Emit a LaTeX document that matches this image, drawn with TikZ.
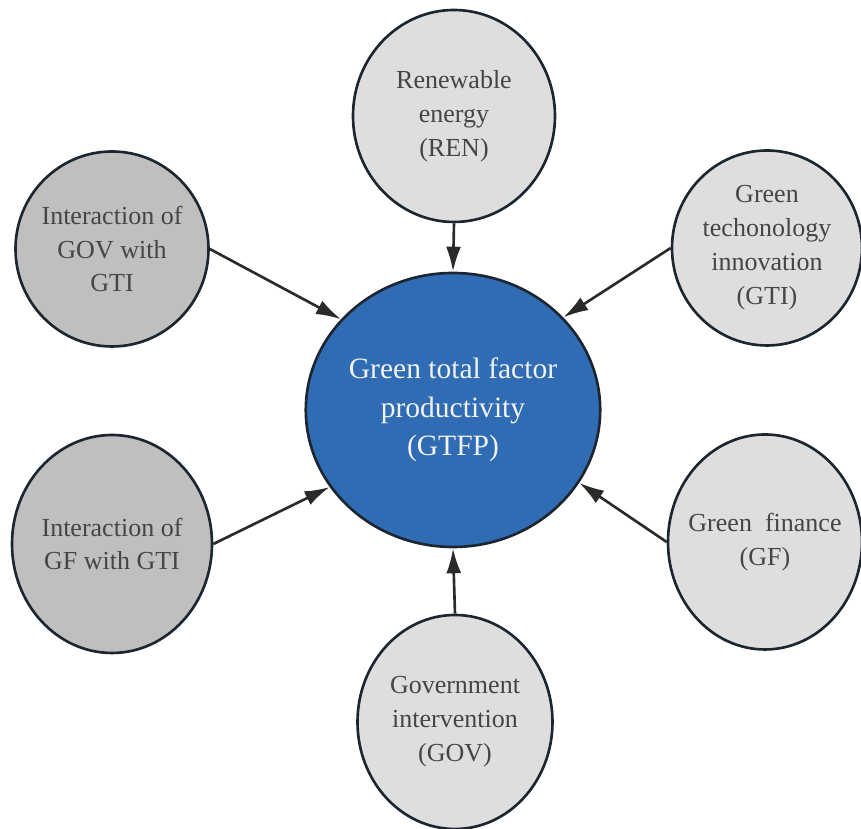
\documentclass[tikz,border=0pt]{standalone}
\usepackage{fontspec}
\setmainfont{Liberation Serif}
\usetikzlibrary{arrows.meta,shapes.geometric}
\definecolor{rimdark}{HTML}{1C2530}
\definecolor{arrdark}{HTML}{2A2A2A}
\definecolor{coreBlue}{HTML}{2F6CB4}
\definecolor{coreText}{HTML}{F2F2F2}
\definecolor{factorFill}{HTML}{DEDEDE}
\definecolor{interFill}{HTML}{BFBFBF}
\definecolor{factorText}{HTML}{454545}

\begin{document}
\begin{tikzpicture}[
  >=Latex,
  factor/.style={
    ellipse, draw=rimdark, line width=1.5pt, fill=factorFill,
    text=factorText, inner xsep=-6pt, inner ysep=0pt, align=center,
    font=\fontsize{14.8}{19.3}\selectfont
  },
  inter/.style={factor, fill=interFill},
  core/.style={
    ellipse, draw=rimdark, line width=1.5pt, fill=coreBlue,
    text=coreText, inner sep=0pt, align=center,
    minimum width=58.8mm, minimum height=54.8mm,
    font=\fontsize{16.8}{21.8}\selectfont
  },
  arr/.style={-{Latex[length=5mm,width=3mm]}, line width=1.5pt, draw=arrdark}
]
\useasboundingbox (0,0) rectangle (17.22,16.58);

% Central outcome
\node[core] (gtfp) at (9.06,8.38) {Green total factor\\productivity\\(GTFP)};

% Determinants round it
\node[factor, minimum width=40.4mm, minimum height=42.4mm] (ren) at (9.08,14.26) {Renewable\\energy\\(REN)};
\node[factor, minimum width=38mm, minimum height=39mm] (gti) at (15.34,11.62) {Green\\techonology\\innovation\\(GTI)};
\node[factor, minimum width=38.8mm, minimum height=43mm] (gf) at (15.3,5.74) {Green\ \ finance\\(GF)};
\node[factor, minimum width=39mm, minimum height=42.8mm] (gov) at (9.1,2.14) {Government\\intervention\\(GOV)};

% Interaction terms
\node[inter, minimum width=38.6mm, minimum height=39mm] (govgti) at (2.24,11.6) {Interaction of\\GOV with\\GTI};
\node[inter, minimum width=40mm, minimum height=43.6mm] (gfgti) at (2.24,5.7) {Interaction of\\GF with GTI};

% Effects on GTFP
\draw[arr] (ren.south) -- (gtfp.north);
\draw[arr] (gov.north) -- (gtfp.south);
\draw[arr] (gti.west) -- (gtfp.40);
\draw[arr] (gf.west) -- (gtfp.330);
\draw[arr] (govgti.east) -- (gtfp.141);
\draw[arr] (gfgti.east) -- (gtfp.212);

\end{tikzpicture}
\end{document}
